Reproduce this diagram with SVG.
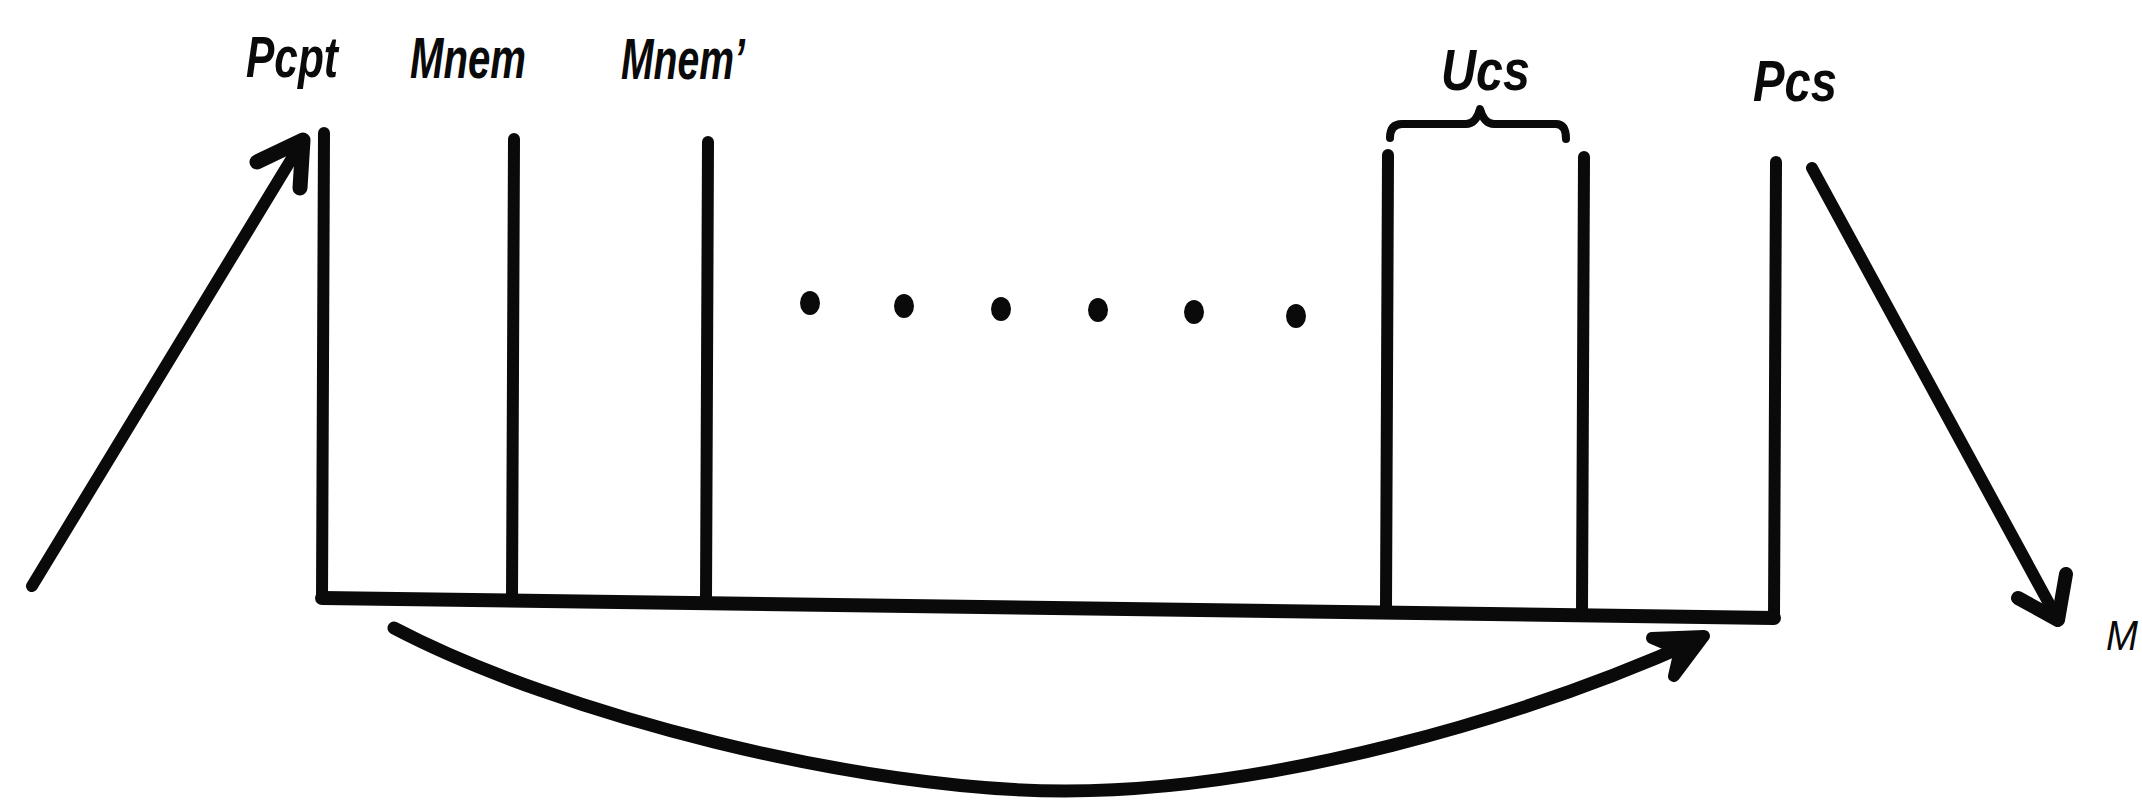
<svg xmlns="http://www.w3.org/2000/svg" width="2142" height="800" viewBox="0 0 2142 800">
<style>
.ln{stroke:#0a0a0a;stroke-width:12;fill:none;stroke-linecap:round;stroke-linejoin:round}
.lbl{font-family:"Liberation Sans",Arial,sans-serif;font-weight:bold;font-style:italic;font-size:57px;fill:#0a0a0a}
.dot{fill:#0a0a0a}
</style>
<rect width="2142" height="800" fill="#ffffff"/>
<g id="node-pcpt">
<text class="lbl" x="246" y="77" textLength="92" lengthAdjust="spacingAndGlyphs">Pcpt</text>
<path class="ln" d="M324,133 L322,598"/>
</g>
<g id="node-mnem">
<text class="lbl" x="410" y="78" textLength="116" lengthAdjust="spacingAndGlyphs">Mnem</text>
<path class="ln" d="M514,139 L512,600"/>
</g>
<g id="node-mnem2">
<text class="lbl" x="621" y="79" textLength="124" lengthAdjust="spacingAndGlyphs">Mnem’</text>
<path class="ln" d="M708,142 L706,602"/>
</g>
<g id="node-dots">
<ellipse class="dot" cx="810" cy="303" rx="10" ry="12"/>
<ellipse class="dot" cx="904" cy="306" rx="10" ry="12"/>
<ellipse class="dot" cx="1001" cy="309" rx="10" ry="12"/>
<ellipse class="dot" cx="1098" cy="310" rx="10" ry="12"/>
<ellipse class="dot" cx="1194" cy="312" rx="10" ry="12"/>
<ellipse class="dot" cx="1296" cy="316" rx="10" ry="12"/>
</g>
<g id="node-ucs">
<text class="lbl" x="1441" y="90" textLength="89" lengthAdjust="spacingAndGlyphs">Ucs</text>
<path class="ln" style="stroke-width:8" d="M1390,138 Q1390,124 1402,124 L1466,124 Q1476,124 1480,109 Q1484,124 1494,124 L1556,124 Q1566,124 1566,139"/>
<path class="ln" d="M1388,155 L1386,609"/>
<path class="ln" d="M1584,157 L1582,612"/>
</g>
<g id="node-pcs">
<text class="lbl" x="1753" y="101" textLength="84" lengthAdjust="spacingAndGlyphs">Pcs</text>
<path class="ln" d="M1776,162 L1774,618"/>
</g>
<g id="node-m">
<text x="2106" y="650" style="font-family:'Liberation Sans',Arial,sans-serif;font-style:italic;font-size:42px;fill:#0a0a0a" textLength="32" lengthAdjust="spacingAndGlyphs">M</text>
</g>
<g id="connectors">
<path class="ln" style="stroke-width:14" d="M322,598 L1774,618"/>
<path class="ln" d="M32,586 L303,140"/>
<path class="ln" style="stroke-width:15" d="M257,162 L303,140 L300,188"/>
<path class="ln" d="M1812,168 L2058,620"/>
<path class="ln" style="stroke-width:14" d="M2018,598 L2058,620 L2066,574"/>
<path class="ln" style="stroke-width:13" d="M394,628 C560,715 860,791 1065,791 C1270,791 1520,720 1700,639"/>
<path class="ln" style="stroke-width:12;fill:#0a0a0a" d="M1652,638 L1704,636 L1674,676 L1680,650 Z"/>
</g>
</svg>
